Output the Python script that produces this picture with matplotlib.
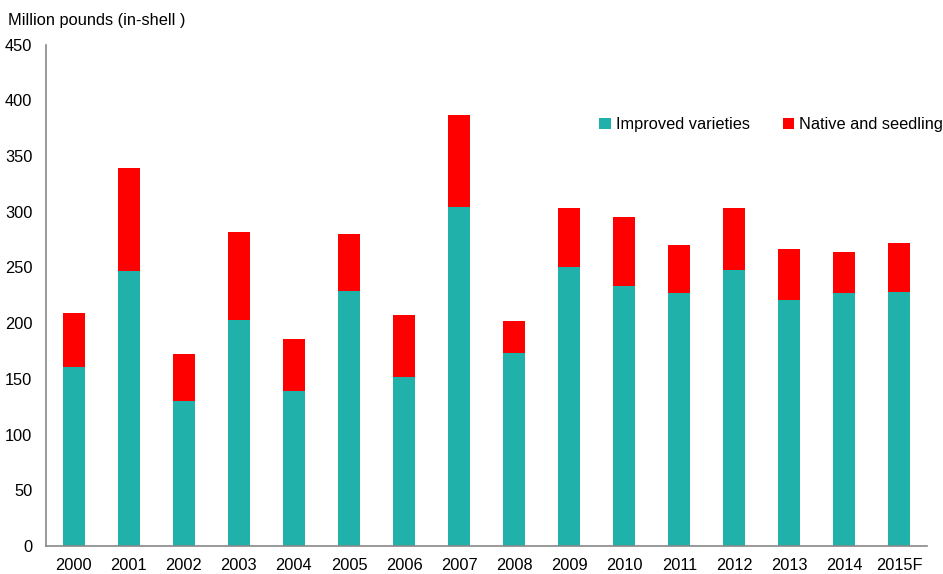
import numpy as np
import matplotlib.pyplot as plt

plt.rcParams['font.family'] = ['Liberation Sans', 'DejaVu Sans']

years = ['2000', '2001', '2002', '2003', '2004', '2005', '2006', '2007',
         '2008', '2009', '2010', '2011', '2012', '2013', '2014', '2015F']
improved = [161, 247, 130, 203, 139, 229, 152, 304,
            173, 250, 233, 227, 248, 221, 227, 228]
total = [209, 339, 172, 282, 186, 280, 207, 387,
         202, 303, 295, 270, 303, 267, 264, 272]
native = [t - i for t, i in zip(total, improved)]

fig = plt.figure(figsize=(9.43, 5.74), dpi=100)
ax = fig.add_axes([0.049, 0.049, 0.934, 0.873])

x = np.arange(len(years))
ax.bar(x, improved, width=0.4, color='#20B2AA', label='Improved varieties')
ax.bar(x, native, width=0.4, bottom=improved, color='#FF0000', label='Native and seedling')

ax.set_xlim(-0.5, len(years) - 0.5)
ax.set_ylim(0, 450)
ax.set_yticks(range(0, 451, 50))
ax.set_xticks(x)
ax.set_xticklabels(years)
ax.tick_params(length=0, labelsize=11.8)
ax.tick_params(axis='x', pad=9)
ax.tick_params(axis='y', pad=10)

for s in ['top', 'right']:
    ax.spines[s].set_visible(False)
for s in ['left', 'bottom']:
    ax.spines[s].set_color('#888888')
    ax.spines[s].set_linewidth(1.2)

ax.legend(loc='center right', bbox_to_anchor=(1.018, 0.84), ncol=2, frameon=False,
          fontsize=11.8, handlelength=0.7, handleheight=0.7, handletextpad=0.3,
          columnspacing=2.0, borderpad=0, borderaxespad=0)

fig.text(0.008, 0.965, 'Million pounds (in-shell )', fontsize=11.8, va='center')

fig.savefig('out.png', dpi=100)
